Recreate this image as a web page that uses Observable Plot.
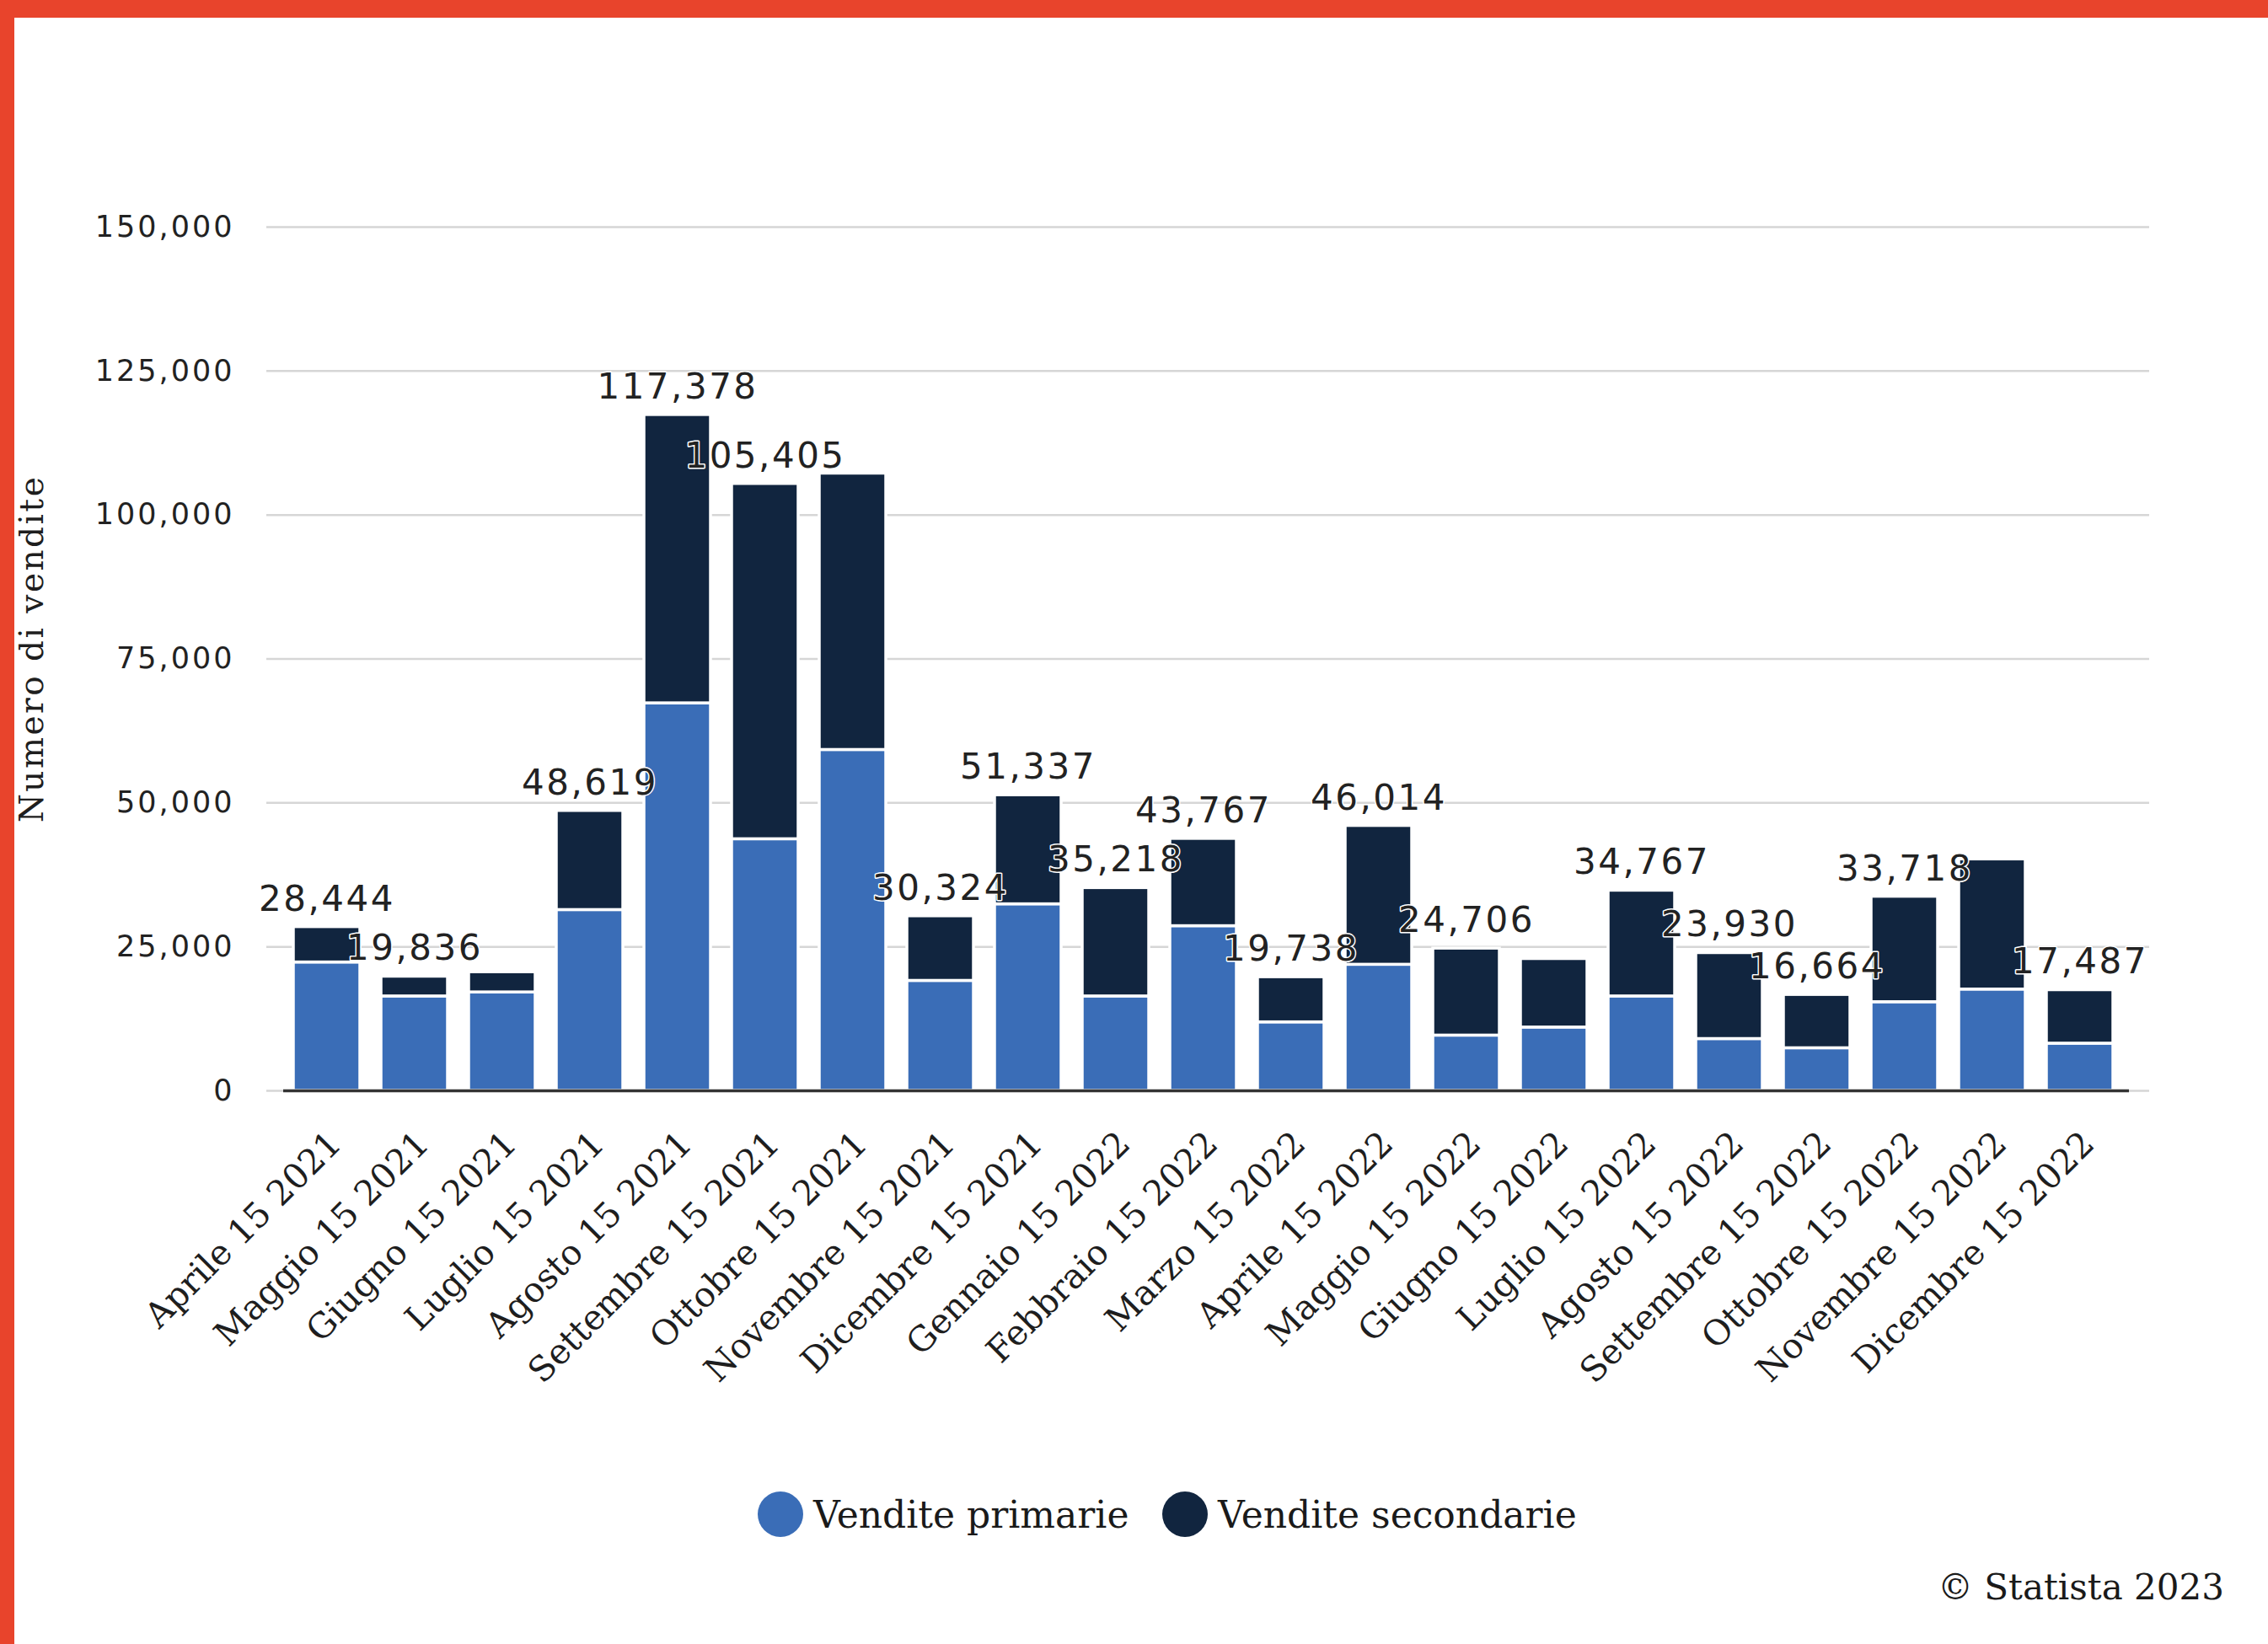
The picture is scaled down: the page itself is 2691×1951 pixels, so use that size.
<!DOCTYPE html>
<html>
<head>
<meta charset="utf-8">
<script src="https://cdn.jsdelivr.net/npm/d3@7"></script>
<script src="https://cdn.jsdelivr.net/npm/@observablehq/plot@0.6"></script>
<style>
  html, body { margin: 0; padding: 0; background: #fff; }
  #page { position: relative; width: 2691px; height: 1951px; overflow: hidden; background: #fff; }
  #topbar { position: absolute; left: 0; top: 0; width: 2691px; height: 21px; background: #e8442c; }
  #leftbar { position: absolute; left: 0; top: 0; width: 17px; height: 1951px; background: #e8442c; }
  #chart { position: absolute; left: 0; top: 0; }
  #legend { position: absolute; left: 0; top: 1769px; width: 2691px; height: 56px; }
  .item { position: absolute; top: 0; display: flex; align-items: center; height: 56px;
          font-family: "DejaVu Serif", serif; font-size: 44px; color: #1a1a1a; white-space: nowrap; }
  .dot { width: 54px; height: 54px; border-radius: 50%; margin-right: 12px; }
  #caption { position: absolute; top: 1859px; right: 52px; font-family: "DejaVu Serif", serif;
             font-size: 42px; color: #1a1a1a; white-space: nowrap; }
  svg [aria-label="y-axis tick label"] text { letter-spacing: 3px; }
  svg [aria-label="text"] text { letter-spacing: 2.5px; }
</style>
</head>
<body>
<div id="page">
  <div id="chart"></div>
  <div id="topbar"></div>
  <div id="leftbar"></div>
  <div id="legend"></div>
  <div id="caption">© Statista 2023</div>
</div>
<script>
// ---- data ----
const mesi = [
  "Aprile 15 2021", "Maggio 15 2021", "Giugno 15 2021", "Luglio 15 2021", "Agosto 15 2021",
  "Settembre 15 2021", "Ottobre 15 2021", "Novembre 15 2021", "Dicembre 15 2021",
  "Gennaio 15 2022", "Febbraio 15 2022", "Marzo 15 2022", "Aprile 15 2022", "Maggio 15 2022",
  "Giugno 15 2022", "Luglio 15 2022", "Agosto 15 2022", "Settembre 15 2022", "Ottobre 15 2022",
  "Novembre 15 2022", "Dicembre 15 2022"
];
const venditePrimarie = [
  22300, 16400, 17100, 31400, 67300, 43700, 59200, 19100, 32400,
  16400, 28600, 11900, 21900, 9600, 11000, 16400, 9000, 7400, 15400, 17600, 8200
];
const venditeSecondarie = [
  6144, 3436, 3500, 17219, 50078, 61705, 48000, 11224, 18937,
  18818, 15167, 7838, 24114, 15106, 11900, 18367, 14930, 9264, 18318, 22600, 9287
];
const etichette = [
  28444, 19836, null, 48619, 117378, 105405, null, 30324, 51337,
  35218, 43767, 19738, 46014, 24706, null, 34767, 23930, 16664, 33718, null, 17487
];
const serie = ["Vendite primarie", "Vendite secondarie"];
const colori = ["#3a6db7", "#11253f"];
const yTicks = [0, 25000, 50000, 75000, 100000, 125000, 150000];
const titoloY = "Numero di vendite";

// ---- tables for Plot ----
const rows = [];
mesi.forEach((m, i) => {
  rows.push({mese: m, tipo: serie[0], valore: venditePrimarie[i]});
  rows.push({mese: m, tipo: serie[1], valore: venditeSecondarie[i]});
});
const labelRows = mesi.map((m, i) => ({mese: m, valore: etichette[i]})).filter(d => d.valore != null);
const fmt = d3.format(",");

const W = 2691, H = 1700;
const chart = Plot.plot({
  width: W,
  height: H,
  marginLeft: 316,
  marginRight: 141,
  marginTop: 269,
  marginBottom: H - 1294,
  style: {background: "transparent", overflow: "visible"},
  x: {type: "band", domain: mesi, paddingInner: 0.243, paddingOuter: 0.125, insetLeft: 16, insetRight: 27},
  y: {domain: [0, 150000]},
  color: {domain: serie, range: colori},
  marks: [
    Plot.ruleY(yTicks, {stroke: "#d6d6d6", strokeWidth: 2.5}),
    Plot.barY(rows, {x: "mese", y: "valore", fill: "tipo", stroke: "white", strokeWidth: 3.5}),
    Plot.ruleY([0], {stroke: "#333", strokeWidth: 3.5, insetLeft: 20, insetRight: 24}),
    Plot.text(labelRows, {
      x: "mese", y: "valore", text: d => fmt(d.valore), dy: -33, lineAnchor: "middle",
      fontFamily: "DejaVu Sans", fontSize: 42, fill: "#222", stroke: "white", strokeWidth: 3
    }),
    Plot.axisY({
      ticks: yTicks, tickFormat: fmt, tickSize: 0, tickPadding: 38, label: null,
      fontFamily: "DejaVu Sans", fontSize: 35, fill: "#222"
    }),
    Plot.axisX({
      tickRotate: -45, tickSize: 0, tickPadding: 56, dx: 10, label: null,
      fontFamily: "DejaVu Serif", fontSize: 41, fill: "#1e1e1e"
    }),
    Plot.text([titoloY], {
      frameAnchor: "left", textAnchor: "middle", dx: -278, dy: -12, rotate: -90, lineAnchor: "middle",
      fontFamily: "DejaVu Serif", fontSize: 39, fill: "#1e1e1e"
    })
  ]
});
document.getElementById("chart").appendChild(chart);

// ---- legend ----
const legend = document.getElementById("legend");
const lefts = [899, 1379];
serie.forEach((s, i) => {
  const it = document.createElement("div");
  it.className = "item";
  it.style.left = lefts[i] + "px";
  const dot = document.createElement("div");
  dot.className = "dot";
  dot.style.background = colori[i];
  const t = document.createElement("span");
  t.textContent = s;
  it.appendChild(dot);
  it.appendChild(t);
  legend.appendChild(it);
});
</script>
</body>
</html>
